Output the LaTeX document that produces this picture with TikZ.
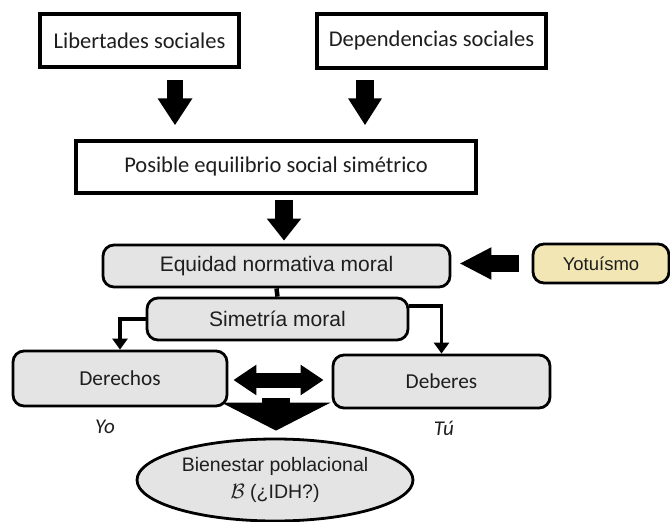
\documentclass[tikz,border=0pt]{standalone}
\usepackage{fontspec}
\setmainfont{Carlito}
\newfontfamily\arialf{Liberation Sans}
\usetikzlibrary{arrows.meta,calc,shapes.geometric}
\definecolor{boxgray}{RGB}{228,228,228}
\definecolor{tan}{RGB}{242,230,180}
\definecolor{txt}{RGB}{30,30,30}
\tikzset{
  plainbox/.style={draw=black, line width=3.4pt, fill=white, inner sep=0pt,
    font=\fontsize{22.5}{26}\selectfont, text=txt},
  graybox/.style={draw=black, line width=2.8pt, fill=boxgray, rounded corners=11pt,
    inner sep=0pt, font=\arialf\fontsize{21}{24}\selectfont, text=txt},
  calbox/.style={graybox, font=\fontsize{21.3}{24}\selectfont},
  elbow/.style={draw=black, line width=3.2pt, -{Triangle[width=15pt,length=11pt]}},
  stem/.style={draw=black, line width=4.5pt},
  lbl/.style={font=\itshape\fontsize{21}{24}\selectfont, text=txt, inner sep=0pt}
}
\begin{document}
\begin{tikzpicture}[x=1pt,y=-1pt]
\useasboundingbox (0,0) rectangle (670,522);
% boxes
\node[plainbox, minimum width=199pt, minimum height=53pt] (lib) at (139.5,40.5) {Libertades sociales};
\node[plainbox, minimum width=229pt, minimum height=54pt] (dep) at (431.5,41) {Dependencias sociales};
\node[plainbox, minimum width=400pt, minimum height=52pt] (pos) at (276,167) {Posible equilibrio social simétrico};
\node[graybox, minimum width=347pt, minimum height=42pt] (equ) at (276.5,266) {Equidad normativa moral};
\node[graybox, fill=tan, minimum width=136pt, minimum height=39pt, font=\arialf\fontsize{18.5}{22}\selectfont] (yot) at (601,263.5) {Yotuísmo};
\node[graybox, minimum width=261pt, minimum height=42pt] (sim) at (277.5,319) {Simetría moral};
\node[calbox, minimum width=214pt, minimum height=55pt] (der) at (120,378.5) {Derechos};
\node[calbox, minimum width=217pt, minimum height=53pt] (deb) at (441.5,381.5) {Deberes};
\node[draw=black, line width=2.8pt, fill=boxgray, ellipse, minimum width=276pt, minimum height=82pt,
  inner sep=0pt, align=center, font=\arialf\fontsize{19.5}{27}\selectfont, text=txt] (ell) at (275,480)
  {Bienestar poblacional\\$\mathcal{B}$ (¿IDH?)};
\node[lbl] (yo) at (105,427) {Yo};
\node[lbl] (tu) at (444,428) {Tú};
\coordinate (mid) at ($(der.east)!0.5!(deb.west)$);
% block arrows
\draw[line width=16pt, -{Triangle[width=33pt,length=27pt]}]
  ([shift={(35.5,11)}]lib.south) -- ([shift={(-101,-14)}]pos.north);
\draw[line width=18pt, -{Triangle[width=32pt,length=27pt]}]
  ([shift={(-66.5,10)}]dep.south) -- ([shift={(89,-14)}]pos.north);
\draw[line width=18pt, -{Triangle[width=33pt,length=22pt]}]
  ([shift={(8,5)}]pos.south) -- ([shift={(7.5,-3)}]equ.north);
\draw[line width=17pt, -{Triangle[width=30pt,length=32pt]}]
  ([shift={(-13,0)}]yot.west) -- ([shift={(8,-2.5)}]equ.east);
\draw[line width=15pt, {Triangle[width=29pt,length=23pt]}-{Triangle[width=29pt,length=23pt]}]
  ([shift={(5,1.5)}]der.east) -- ([shift={(-8,-1.5)}]deb.west);
\draw[line width=28pt, -{Triangle[width=108pt,length=28pt]}]
  ([shift={(-4,18)}]mid) -- ([shift={(1,-7)}]ell.north);
% thin connectors
\draw[stem] (equ.south) -- (sim.north);
\draw[elbow] (sim.west) -| (der.north);
\draw[elbow] ([shift={(0,-13)}]sim.east) -| (deb.north);
\end{tikzpicture}
\end{document}
